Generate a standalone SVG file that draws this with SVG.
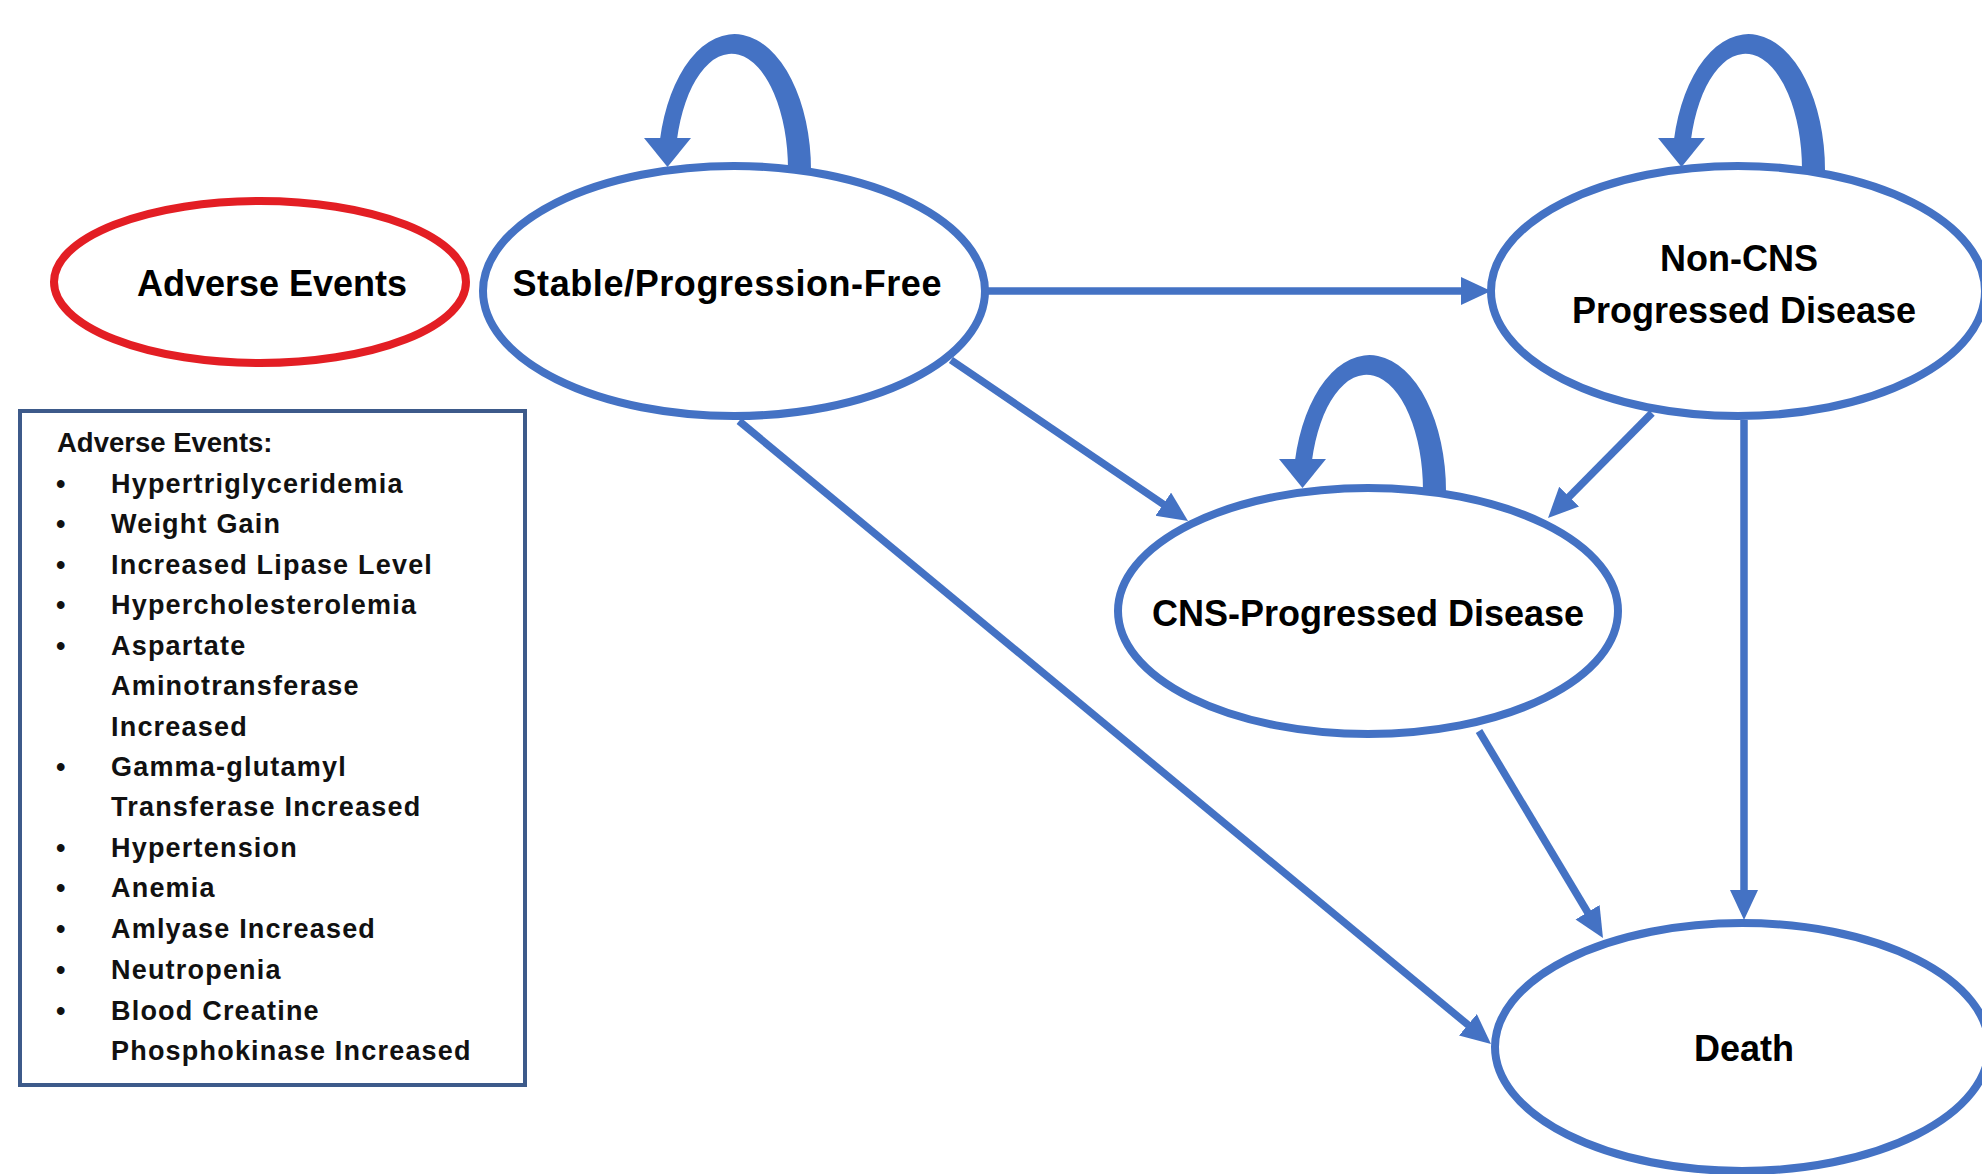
<svg xmlns="http://www.w3.org/2000/svg" xmlns:xlink="http://www.w3.org/1999/xlink" width="1982" height="1174" viewBox="0 0 1982 1174">
<style>
.state{fill:#fff;stroke:#4472C4;stroke-width:8}
.ae{fill:#fff;stroke:#E31E24;stroke-width:8}
.lbl{font-family:"Liberation Sans",Arial,sans-serif;font-weight:bold;font-size:36px;fill:#000;text-anchor:middle}
.box{fill:#fff;stroke:#3D5A8A;stroke-width:4}
.lst{font-family:"Liberation Sans",Arial,sans-serif;font-weight:bold;font-size:27px;fill:#111;letter-spacing:1.2px}
.hdr{font-family:"Liberation Sans",Arial,sans-serif;font-weight:bold;font-size:27.5px;fill:#111}
.edge{stroke:#4472C4;stroke-width:7.5;fill:none;marker-end:url(#ah)}
.loop{fill:#4472C4}
</style>
<defs>
<marker id="ah" markerUnits="userSpaceOnUse" markerWidth="32" markerHeight="30" refX="10" refY="14" orient="auto">
<path d="M0,0 L30,14 L0,28 Z" fill="#4472C4"/>
</marker>
<g id="selfloop">
<path class="loop" d="M 75 3 A 76.5 136 0 0 0 -76.1 -27 L -59.1 -27 A 56.5 116 0 0 1 52 3 Z"/>
<polygon class="loop" points="-92,-29 -45,-29 -68.5,0"/>
</g>
</defs>
<rect width="1982" height="1174" fill="#fff"/>

<g id="connectors">
<line class="edge" x1="988" y1="291" x2="1471" y2="291"/>
<line class="edge" x1="951" y1="360" x2="1171.5" y2="509.8"/>
<line class="edge" x1="739" y1="421" x2="1475.6" y2="1031.2"/>
<line class="edge" x1="1652" y1="413" x2="1562.1" y2="503.8"/>
<line class="edge" x1="1744" y1="420" x2="1744" y2="900"/>
<line class="edge" x1="1479" y1="731" x2="1592.7" y2="920.8"/>
</g>

<g id="node-adverse-events">
<ellipse class="ae" cx="260" cy="282" rx="206" ry="81"/>
<text class="lbl" x="272" y="296">Adverse Events</text>
</g>

<g id="node-stable">
<ellipse class="state" cx="734" cy="291" rx="251" ry="125"/>
<text class="lbl" x="727" y="296" textLength="429">Stable/Progression-Free</text>
</g>
<g id="loop-stable"><use xlink:href="#selfloop" href="#selfloop" transform="translate(736,167)"/></g>

<g id="node-noncns">
<ellipse class="state" cx="1738" cy="291" rx="247" ry="125"/>
<text class="lbl" x="1739" y="271">Non-CNS</text>
<text class="lbl" x="1744" y="323">Progressed Disease</text>
</g>
<g id="loop-noncns"><use xlink:href="#selfloop" href="#selfloop" transform="translate(1750,167)"/></g>

<g id="node-cns">
<ellipse class="state" cx="1368" cy="611" rx="250" ry="123"/>
<text class="lbl" x="1368" y="626">CNS-Progressed Disease</text>
</g>
<g id="loop-cns"><use xlink:href="#selfloop" href="#selfloop" transform="translate(1371,488)"/></g>

<g id="node-death">
<ellipse class="state" cx="1742" cy="1047" rx="247" ry="124"/>
<text class="lbl" x="1744" y="1061">Death</text>
</g>

<g id="ae-list">
<rect class="box" x="20" y="411" width="505" height="674"/>
<text class="hdr" x="57" y="452">Adverse Events:</text>
<g class="lst">
<text x="56" y="493">•</text><text x="111" y="493">Hypertriglyceridemia</text>
<text x="56" y="533">•</text><text x="111" y="533">Weight Gain</text>
<text x="56" y="574">•</text><text x="111" y="574">Increased Lipase Level</text>
<text x="56" y="614">•</text><text x="111" y="614">Hypercholesterolemia</text>
<text x="56" y="655">•</text><text x="111" y="655">Aspartate</text>
<text x="111" y="695">Aminotransferase</text>
<text x="111" y="736">Increased</text>
<text x="56" y="776">•</text><text x="111" y="776">Gamma-glutamyl</text>
<text x="111" y="816">Transferase Increased</text>
<text x="56" y="857">•</text><text x="111" y="857">Hypertension</text>
<text x="56" y="897">•</text><text x="111" y="897">Anemia</text>
<text x="56" y="938">•</text><text x="111" y="938">Amlyase Increased</text>
<text x="56" y="979">•</text><text x="111" y="979">Neutropenia</text>
<text x="56" y="1020">•</text><text x="111" y="1020">Blood Creatine</text>
<text x="111" y="1060">Phosphokinase Increased</text>
</g>
</g>
</svg>
